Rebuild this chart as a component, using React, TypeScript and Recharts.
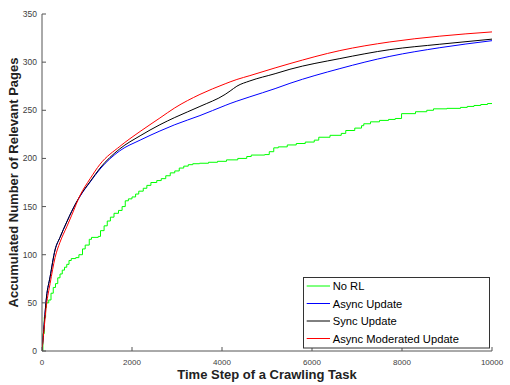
import React from 'react';
import { LineChart, Line, XAxis, YAxis, Legend, Label } from 'recharts';

const xTicks = [0, 2000, 4000, 6000, 8000, 10000];
const yTicks = [0, 50, 100, 150, 200, 250, 300, 350];

const seriesNames = ['No RL', 'Async Update', 'Sync Update', 'Async Moderated Update'];
const seriesColors = ['#00ff00', '#0000ff', '#000000', '#ff0000'];

// No RL (staircase)
const greenX = [0, 20, 50, 80, 100, 150, 200, 250, 300, 350, 400, 450, 500, 550, 600, 650, 750, 820, 900, 960, 1050, 1100, 1250, 1300, 1380, 1450, 1520, 1600, 1700, 1780, 1850, 1920, 2000, 2080, 2150, 2250, 2330, 2420, 2550, 2650, 2750, 2850, 2950, 3050, 3150, 3250, 3350, 3500, 3700, 3900, 4100, 4350, 4550, 4650, 4950, 5050, 5150, 5250, 5450, 5650, 5850, 6050, 6150, 6400, 6650, 6750, 6950, 7100, 7150, 7300, 7500, 7700, 7850, 7990, 8300, 8550, 8700, 9000, 9300, 9450, 9600, 9750, 9900, 10000];
const greenY = [0, 18, 35, 45, 50, 53, 60, 66, 70, 76, 80, 84, 87, 90, 94, 96, 97, 100, 106, 110, 116, 118, 119, 125, 130, 135, 139, 143, 146, 150, 156, 158, 160, 163, 166, 169, 172, 175, 177, 179, 182, 185, 187, 190, 192, 193.5, 194.5, 195, 196, 197, 198.5, 200, 202, 203.5, 204, 207, 211, 212, 214, 215.5, 217, 219, 222, 224, 226, 229, 231.5, 234, 236, 238, 239.5, 240.5, 241.5, 246.5, 248.5, 250, 251.5, 252, 253, 254, 255, 256, 257, 257];

// Smooth curves
const mainX = [0, 30, 100, 180, 290, 400, 550, 660, 850, 1070, 1290, 1730, 2180, 2620, 2950, 3510, 4070, 4180, 4330, 4620, 5180, 5510, 6620, 7730, 8840, 10000];
const blueY = [0, 17, 56, 77, 105, 118, 134, 145, 161, 175.5, 189, 208, 219, 228.5, 235, 244.5, 255, 257, 259.5, 264, 272.5, 278, 293.3, 306, 315, 322.3];
const blackY = [0, 17, 56, 77, 105, 118, 134, 145, 161.5, 176, 190, 210, 223.5, 235, 242.5, 254, 266.5, 270, 275, 280.5, 288, 292.6, 303.7, 313, 318.6, 323.9];
const redY = [0, 15, 48, 70, 97, 113, 129, 141, 162, 179, 194, 212.5, 228, 242, 252.5, 266.5, 277.5, 279.5, 282, 286, 294, 298.5, 312, 321, 327, 331.4];

const greenData = greenX.map((x, i) => ({ x, y: greenY[i] }));
const blueData = mainX.map((x, i) => ({ x, y: blueY[i] }));
const blackData = mainX.map((x, i) => ({ x, y: blackY[i] }));
const redData = mainX.map((x, i) => ({ x, y: redY[i] }));

const FONT = '"Liberation Sans", Arial, Helvetica, sans-serif';
const AXIS = '#555555';
const TICKTXT = '#404040';

const BottomTick = (p: any) => (
  <g>
    <line x1={p.x} x2={p.x} y1={p.y} y2={p.y - 4} stroke={AXIS} />
    <text x={p.x} y={p.y + 14} textAnchor="middle" fontSize={8} fontFamily={FONT} fill={TICKTXT}>{p.payload.value}</text>
  </g>
);
const TopTick = (p: any) => (
  <line x1={p.x} x2={p.x} y1={p.y} y2={p.y + 4} stroke={AXIS} />
);
const LeftTick = (p: any) => (
  <g>
    <line x1={p.x} x2={p.x + 4} y1={p.y} y2={p.y} stroke={AXIS} />
    <text x={p.x - 5} y={p.y + 3} textAnchor="end" fontSize={8.5} fontFamily={FONT} fill={TICKTXT}>{p.payload.value}</text>
  </g>
);
const RightTick = (p: any) => (
  <line x1={p.x} x2={p.x - 4} y1={p.y} y2={p.y} stroke={AXIS} />
);

const XTitle = (props: any) => {
  const vb = props.viewBox || { x: 42, y: 351, width: 450, height: 34 };
  return (
    <text x={vb.x + vb.width / 2} y={vb.y + 28} textAnchor="middle" fontSize={13} fontWeight="bold" fontFamily={FONT} fill="#222">
      Time Step of a Crawling Task
    </text>
  );
};
const YTitle = (props: any) => {
  const vb = props.viewBox || { x: 10, y: 14, width: 32, height: 337 };
  const cx = 18;
  const cy = vb.y + vb.height / 2;
  return (
    <text x={cx} y={cy} transform={`rotate(-90 ${cx} ${cy})`} textAnchor="middle" fontSize={13} fontWeight="bold" fontFamily={FONT} fill="#222">
      Accumulated Number of Relevant Pages
    </text>
  );
};

const LegendBox = () => (
  <svg width={188} height={73} style={{ display: 'block' }}>
    <rect x={0.5} y={0.5} width={186} height={70.5} fill="#ffffff" stroke="#333333" />
    {seriesNames.map((n, i) => {
      const cy = 9 + i * 17.5;
      return (
        <g key={n}>
          <line x1={3.7} x2={27} y1={cy} y2={cy} stroke={seriesColors[i]} />
          <text x={29.7} y={cy + 4} fontSize={11.2} fontFamily={FONT} fill="#000">{n}</text>
        </g>
      );
    })}
  </svg>
);

export default function App() {
  return (
    <div style={{ position: 'absolute', left: 0, top: 0, background: '#fff' }}>
      <LineChart width={510} height={385} margin={{ top: 14, right: 18, bottom: 0, left: 10 }}>
        <XAxis
          xAxisId="b"
          type="number"
          dataKey="x"
          domain={[0, 10000]}
          ticks={xTicks}
          interval={0}
          height={34}
          tickSize={0}
          tickMargin={0}
          tickLine={false}
          axisLine={{ stroke: AXIS }}
          tick={BottomTick}
          allowDataOverflow
        >
          <Label content={XTitle} />
        </XAxis>
        <XAxis
          xAxisId="t"
          orientation="top"
          type="number"
          dataKey="x"
          domain={[0, 10000]}
          ticks={xTicks}
          interval={0}
          height={0}
          tickSize={0}
          tickMargin={0}
          tickLine={false}
          axisLine={{ stroke: AXIS }}
          tick={TopTick}
        />
        <YAxis
          yAxisId="l"
          type="number"
          domain={[0, 350]}
          ticks={yTicks}
          interval={0}
          width={32}
          tickSize={0}
          tickMargin={0}
          tickLine={false}
          axisLine={{ stroke: AXIS }}
          tick={LeftTick}
          allowDataOverflow
        >
          <Label content={YTitle} />
        </YAxis>
        <YAxis
          yAxisId="r"
          orientation="right"
          type="number"
          domain={[0, 350]}
          ticks={yTicks}
          interval={0}
          width={0}
          tickSize={0}
          tickMargin={0}
          tickLine={false}
          axisLine={{ stroke: AXIS }}
          tick={RightTick}
        />
        <Line xAxisId="b" yAxisId="l" data={greenData} dataKey="y" name={seriesNames[0]} type="stepAfter" stroke={seriesColors[0]} strokeWidth={1} dot={false} isAnimationActive={false} />
        <Line xAxisId="b" yAxisId="l" data={blueData} dataKey="y" name={seriesNames[1]} type="monotone" stroke={seriesColors[1]} strokeWidth={1} dot={false} isAnimationActive={false} />
        <Line xAxisId="b" yAxisId="l" data={blackData} dataKey="y" name={seriesNames[2]} type="monotone" stroke={seriesColors[2]} strokeWidth={1} dot={false} isAnimationActive={false} />
        <Line xAxisId="b" yAxisId="l" data={redData} dataKey="y" name={seriesNames[3]} type="monotone" stroke={seriesColors[3]} strokeWidth={1} dot={false} isAnimationActive={false} />
        <Legend
          layout="vertical"
          align="center"
          verticalAlign="middle"
          content={LegendBox}
          wrapperStyle={{ left: 303, top: 277, width: 188, height: 73 }}
        />
      </LineChart>
    </div>
  );
}
